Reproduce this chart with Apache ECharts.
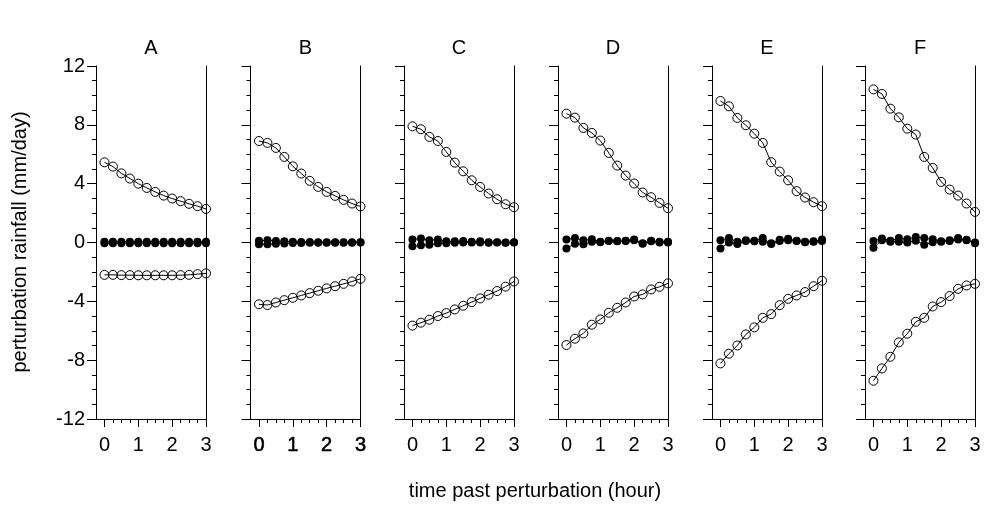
<!DOCTYPE html>
<html>
<head>
<meta charset="utf-8">
<script src="https://cdn.jsdelivr.net/npm/echarts@6/dist/echarts.min.js"></script>
<style>html,body{margin:0;padding:0;background:#fff}#c{width:984px;height:505px}</style>
</head>
<body>
<div id="c"></div>
<script>
const hours = [0, 0.25, 0.5, 0.75, 1, 1.25, 1.5, 1.75, 2, 2.25, 2.5, 2.75, 3];
const panelNames = ['A', 'B', 'C', 'D', 'E', 'F'];
const yTicks = [-12, -8, -4, 0, 4, 8, 12];
const xTickLabels = [0, 1, 2, 3];

const upperA = [5.45, 5.16, 4.7, 4.35, 4.0, 3.71, 3.44, 3.19, 2.99, 2.81, 2.63, 2.47, 2.28];
const lowerA = [-2.2, -2.2, -2.22, -2.22, -2.23, -2.23, -2.23, -2.23, -2.23, -2.22, -2.2, -2.15, -2.1];
const dot1A = [0.05, 0.05, 0.05, 0.05, 0.05, 0.05, 0.05, 0.05, 0.05, 0.05, 0.05, 0.05, 0.05];
const dot2A = [-0.05, -0.05, -0.05, -0.05, -0.05, -0.05, -0.05, -0.05, -0.05, -0.05, -0.05, -0.05, -0.05];

const upperB = [6.9, 6.77, 6.43, 5.82, 5.18, 4.69, 4.19, 3.78, 3.44, 3.17, 2.9, 2.65, 2.45];
const lowerB = [-4.2, -4.25, -4.08, -3.92, -3.76, -3.6, -3.44, -3.28, -3.12, -2.97, -2.81, -2.65, -2.47];
const dot1B = [0.12, 0.15, 0.1, 0.08, 0.05, 0.04, 0.03, 0.02, 0.02, 0.01, 0.01, 0.01, 0.01];
const dot2B = [-0.12, -0.12, -0.08, -0.06, -0.04, -0.03, -0.02, -0.02, -0.01, -0.01, -0.01, -0.01, 0];

const upperC = [7.9, 7.7, 7.18, 6.9, 6.16, 5.43, 4.84, 4.23, 3.78, 3.33, 2.94, 2.6, 2.4];
const lowerC = [-5.65, -5.45, -5.25, -5.0, -4.8, -4.55, -4.3, -4.05, -3.8, -3.55, -3.3, -3.0, -2.65];
const dot1C = [0.2, 0.28, 0.15, 0.2, 0.08, 0.08, 0.1, 0.05, 0.08, 0.02, 0.02, 0.0, 0.02];
const dot2C = [-0.25, -0.18, -0.15, -0.05, -0.05, -0.02, 0.0, 0.0, 0.0, -0.02, 0.0, -0.02, 0.0];

const upperD = [8.76, 8.49, 7.79, 7.45, 6.93, 6.09, 5.23, 4.55, 4.01, 3.4, 3.08, 2.69, 2.33];
const lowerD = [-6.97, -6.54, -6.18, -5.59, -5.23, -4.78, -4.44, -4.08, -3.67, -3.53, -3.19, -3.01, -2.78];
const dot1D = [0.2, 0.3, 0.15, 0.22, 0.05, 0.12, 0.1, 0.12, 0.2, -0.05, 0.12, 0.05, 0.05];
const dot2D = [-0.4, -0.08, -0.12, 0.05, 0.02, 0.1, 0.08, 0.1, 0.15, -0.08, 0.08, 0.0, 0.0];

const upperE = [9.62, 9.26, 8.47, 7.97, 7.4, 6.77, 5.46, 4.82, 4.23, 3.49, 3.06, 2.74, 2.47];
const lowerE = [-8.22, -7.56, -7.0, -6.25, -5.77, -5.12, -4.87, -4.26, -3.83, -3.6, -3.37, -2.97, -2.6];
const dot1E = [0.15, 0.3, 0.05, 0.15, 0.12, 0.3, -0.1, 0.18, 0.25, 0.12, 0.05, 0.08, 0.2];
const dot2E = [-0.4, 0.0, -0.1, 0.1, 0.08, 0.05, -0.05, 0.1, 0.15, 0.1, 0.02, 0.05, 0.1];

const upperF = [10.41, 10.1, 9.1, 8.51, 7.74, 7.34, 5.82, 5.07, 4.12, 3.6, 3.19, 2.65, 2.08];
const lowerF = [-9.4, -8.56, -7.77, -6.79, -6.2, -5.39, -5.12, -4.35, -4.05, -3.64, -3.15, -2.92, -2.81];
const dot1F = [0.1, 0.28, 0.12, 0.3, 0.22, 0.38, 0.3, 0.22, 0.08, 0.15, 0.3, 0.18, 0.0];
const dot2F = [-0.35, 0.15, 0.05, 0.05, 0.0, 0.12, -0.15, 0.02, 0.05, 0.1, 0.2, 0.15, -0.05];

const panelData = [
  [upperA, lowerA, dot1A, dot2A],
  [upperB, lowerB, dot1B, dot2B],
  [upperC, lowerC, dot1C, dot2C],
  [upperD, lowerD, dot1D, dot2D],
  [upperE, lowerE, dot1E, dot2E],
  [upperF, lowerF, dot1F, dot2F]
];

const FONT = '"Liberation Sans", Arial, Helvetica, sans-serif';
const grids = [], xAxes = [], yAxes = [], series = [], graphics = [];
const gridLefts = [96, 250.5, 404, 558, 712, 865];
const gridW = 110, gridTop = 66, gridH = 353;
const quarterTicks = hours.slice();

panelNames.forEach((name, i) => {
  grids.push({ left: gridLefts[i], top: gridTop, width: gridW, height: gridH, containLabel: false });
  xAxes.push({
    type: 'value', gridIndex: i, min: -0.25, max: 3, position: 'bottom',
    axisLine: { show: true, onZero: false, lineStyle: { color: '#000', width: 1 } },
    axisTick: { show: true, inside: false, length: 8, customValues: xTickLabels, lineStyle: { color: '#000', width: 1 } },
    axisLabel: { show: true, customValues: xTickLabels, margin: 16, color: '#000', fontSize: 20, fontFamily: FONT,
      textBorderColor: i === 1 ? '#000' : 'transparent', textBorderWidth: i === 1 ? 0.6 : 0 },
    splitLine: { show: false }
  });
  xAxes.push({
    type: 'value', gridIndex: i, min: -0.25, max: 3, position: 'bottom',
    axisLine: { show: false, onZero: false },
    axisTick: { show: true, inside: false, length: 4, customValues: quarterTicks, lineStyle: { color: '#000', width: 1 } },
    axisLabel: { show: false },
    splitLine: { show: false }
  });
  yAxes.push({
    type: 'value', gridIndex: i, min: -12, max: 12, interval: 4, position: 'left',
    axisLine: { show: true, onZero: false, lineStyle: { color: '#000', width: 1 } },
    axisTick: { show: true, inside: false, length: 9, lineStyle: { color: '#000', width: 1 } },
    minorTick: { show: true, splitNumber: 4, length: 4, lineStyle: { color: '#000', width: 1 } },
    axisLabel: { show: i === 0, margin: 11, color: '#000', fontSize: 20, fontFamily: FONT },
    splitLine: { show: false }
  });
  yAxes.push({
    type: 'value', gridIndex: i, min: -12, max: 12, interval: 4, position: 'right',
    axisLine: { show: true, onZero: false, lineStyle: { color: '#000', width: 1 } },
    axisTick: { show: false }, axisLabel: { show: false }, splitLine: { show: false }
  });

  const [up, lo, d1, d2] = panelData[i];
  const mk = (arr, filled) => ({
    type: 'line',
    xAxisIndex: 2 * i, yAxisIndex: 2 * i,
    data: hours.map((h, k) => [h, arr[k]]),
    symbol: 'circle',
    symbolSize: filled ? 8 : 9,
    showSymbol: true,
    clip: true,
    lineStyle: { color: '#000', width: 1 },
    itemStyle: filled ? { color: '#000', borderColor: '#000', borderWidth: 0 }
                      : { color: 'rgba(0,0,0,0)', borderColor: '#000', borderWidth: 1 },
    emphasis: { disabled: true },
    animation: false,
    z: filled ? 3 : 2
  });
  series.push(mk(up, false), mk(lo, false), mk(d1, true), mk(d2, true));

  graphics.push({
    type: 'text', x: gridLefts[i] + gridW / 2, y: 48,
    style: { text: name, fontSize: 20, fontFamily: FONT, fill: '#000', align: 'center', verticalAlign: 'middle' }
  });
});

graphics.push({
  type: 'text', x: 20, y: 242, rotation: Math.PI / 2,
  style: { text: 'perturbation rainfall (mm/day)', fontSize: 20, fontFamily: FONT, fill: '#000',
    align: 'center', verticalAlign: 'middle' }
});
graphics.push({
  type: 'text', x: 535, y: 491,
  style: { text: 'time past perturbation (hour)', fontSize: 20, fontFamily: FONT, fill: '#000',
    align: 'center', verticalAlign: 'middle' }
});

const chart = echarts.init(document.getElementById('c'), null, { renderer: 'canvas' });
chart.setOption({
  backgroundColor: '#fff',
  animation: false,
  grid: grids,
  xAxis: xAxes,
  yAxis: yAxes,
  series: series,
  graphic: graphics
});
</script>
</body>
</html>
